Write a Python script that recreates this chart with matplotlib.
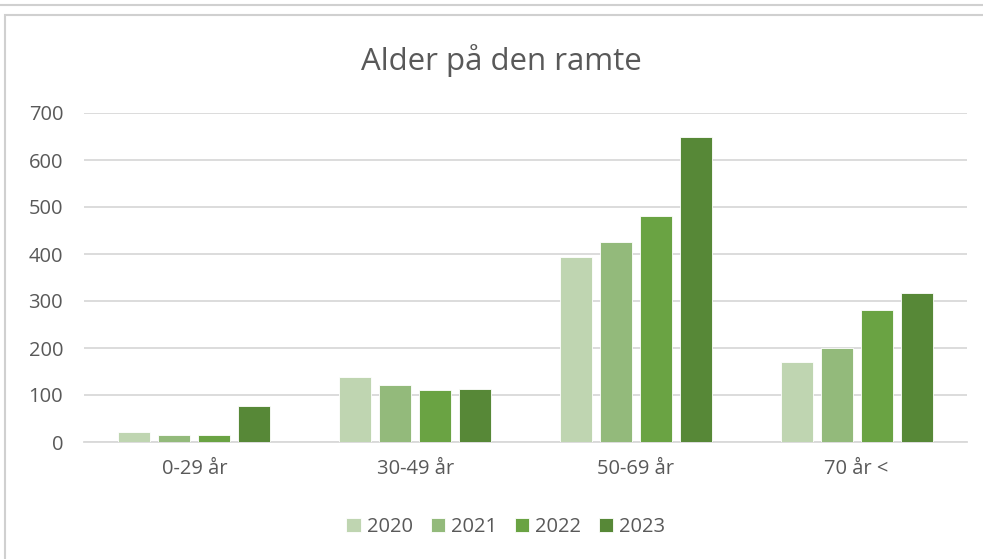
import matplotlib as mpl
mpl.use('Agg')
import matplotlib.pyplot as plt
from matplotlib.patches import Rectangle
import numpy as np

CATEGORIES = ["0-29 år", "30-49 år", "50-69 år", "70 år <"]
YEARS = ["2020", "2021", "2022", "2023"]
V2020 = [21, 138, 394, 170]
V2021 = [15, 121, 426, 200]
V2022 = [15, 110, 481, 280]
V2023 = [76, 113, 648, 318]
Y_TICKS = [0, 100, 200, 300, 400, 500, 600, 700]

COLORS = ['#bfd5b1', '#93ba7b', '#6aa343', '#578837']
TEXT_COLOR = '#595959'
GRID_COLOR = '#d9d9d9'

plt.rcParams['font.family'] = ['Open Sans', 'DejaVu Sans']

W, H = 983, 559
fig = plt.figure(figsize=(W / 100, H / 100), dpi=100)

# outer frames (previous chart box at top, this chart's box)
fig.patches.append(Rectangle((-10 / W, 1 - 5 / H), 1 + 20 / W, 20 / H, transform=fig.transFigure,
                             fill=False, edgecolor='#d0d0d0', linewidth=1.5))
fig.patches.append(Rectangle((5 / W, -0.1), 1.1, 1 - 15 / H + 0.1, transform=fig.transFigure,
                             fill=False, edgecolor='#d0d0d0', linewidth=1.5))

ax = fig.add_axes([84 / W, 1 - 442 / H, (967 - 84) / W, (442 - 113) / H])

series = [V2020, V2021, V2022, V2023]
x = np.arange(len(CATEGORIES))
step = 0.181
width = 0.145
for i, vals in enumerate(series):
    ax.bar(x + (i - 1.5) * step, vals, width, color=COLORS[i], label=YEARS[i],
           edgecolor='white', linewidth=0.6, zorder=3)

ax.set_xlim(-0.5, len(CATEGORIES) - 0.5)
ax.set_ylim(0, 700)
ax.set_yticks(Y_TICKS)
ax.set_xticks(x)
ax.set_xticklabels(CATEGORIES)
ax.yaxis.grid(True, color=GRID_COLOR, linewidth=1.3, zorder=0)
ax.set_axisbelow(True)
for s in ['top', 'right', 'left']:
    ax.spines[s].set_visible(False)
ax.spines['bottom'].set_color(GRID_COLOR)
ax.spines['bottom'].set_linewidth(1.3)
ax.tick_params(axis='both', length=0, colors=TEXT_COLOR, labelsize=14.5)
ax.tick_params(axis='y', pad=15)
ax.tick_params(axis='x', pad=12)

fig.text(501 / W, 1 - 70 / H, "Alder på den ramte", ha='center', va='baseline',
         fontsize=22.5, color=TEXT_COLOR)

leg = fig.legend(loc='center', bbox_to_anchor=(506 / W, 1 - 527 / H), ncol=4, frameon=False,
                 fontsize=14.5, handlelength=0.7, handleheight=0.7, handletextpad=0.3,
                 columnspacing=0.9)
for t in leg.get_texts():
    t.set_color(TEXT_COLOR)

plt.savefig('out.png', dpi=100)
